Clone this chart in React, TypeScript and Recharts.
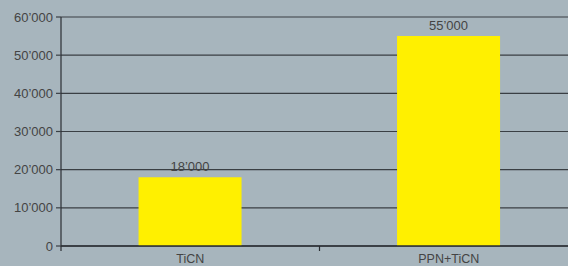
import React from 'react';
import { BarChart, CartesianGrid, XAxis, YAxis, Bar, LabelList } from 'recharts';

const categories = ['TiCN', 'PPN+TiCN'];
const values = [18000, 55000];
const yTicks = [0, 10000, 20000, 30000, 40000, 50000, 60000];

const chartData = categories.map((name, i) => ({ name, value: values[i] }));

const fmt = (v: number) => String(v).replace(/\B(?=(\d{3})+(?!\d))/g, '\u2019');

const XTick = (props: any) => {
  const { x, y, payload } = props;
  const half = payload && payload.offset ? payload.offset : 129;
  return (
    <g>
      {payload.index === 0 && (
        <line x1={x + half} x2={x + half} y1={y - 8} y2={y - 3} stroke="#2a2e33" strokeWidth={1.2} />
      )}
      <text x={x} y={y + 9} textAnchor="middle" fill="#444" fontSize={12.5}>
        {payload.value}
      </text>
    </g>
  );
};

const App: React.FC = () => {
  return (
    <div
      style={{
        position: 'absolute',
        left: 0,
        top: 0,
        width: 568,
        height: 266,
        overflow: 'hidden',
        background: '#a7b5bd',
        fontFamily: 'Liberation Sans, Arial, sans-serif',
      }}
    >
      <BarChart
        width={580}
        height={266}
        data={chartData}
        margin={{ top: 17, right: 2, left: 0, bottom: 0 }}
        barCategoryGap="30%"
      >
        <CartesianGrid vertical={false} stroke="#3a3f44" strokeWidth={1.2} />
        <XAxis
          dataKey="name"
          height={20}
          tickLine={false}
          axisLine={{ stroke: '#2a2e33', strokeWidth: 1.5 }}
          tick={<XTick />}
          interval={0}
        />
        <YAxis
          width={61}
          domain={[0, 60000]}
          ticks={yTicks}
          tickFormatter={fmt}
          tickSize={5}
          tickLine={{ stroke: '#3a3f44', strokeWidth: 1.2 }}
          axisLine={{ stroke: '#2a2e33', strokeWidth: 1.2 }}
          tick={{ fill: '#444', fontSize: 13 }}
          tickMargin={3}
          interval={0}
        />
        <Bar dataKey="value" fill="#fff000" isAnimationActive={false}>
          <LabelList dataKey="value" position="top" offset={6} formatter={(v: any) => fmt(v)} fill="#444" fontSize={13} />
        </Bar>
      </BarChart>
      <svg style={{ position: 'absolute', left: 0, top: 0 }} width={568} height={266} pointerEvents="none">
        <line x1={61} x2={61} y1={246} y2={251} stroke="#2a2e33" strokeWidth={1.2} />
      </svg>
    </div>
  );
};

export default App;
